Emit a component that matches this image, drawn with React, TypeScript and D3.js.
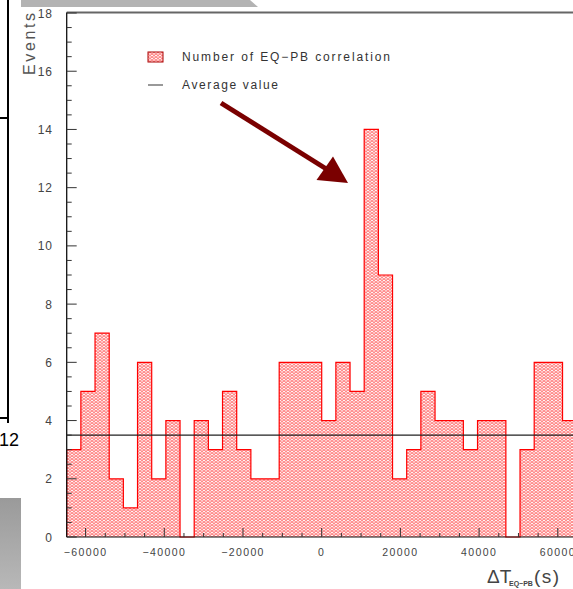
import React from "react";
import * as d3 from "d3";

const binStart = -64800;
const binWidth = 3600;
const counts = [3, 5, 7, 2, 1, 6, 2, 4, 0, 4, 3, 5, 3, 2, 2, 6, 6, 6, 4, 6, 5, 14, 9, 2, 3, 5, 4, 4, 3, 4, 4, 0, 3, 6, 6, 4];
const averageValue = 3.5;
const yTicks = [0, 2, 4, 6, 8, 10, 12, 14, 16, 18];
const xTicks = [-60000, -40000, -20000, 0, 20000, 40000, 60000];
const legendLabels = ["Number of EQ\u2212PB correlation", "Average value"];

const W = 573;
const H = 589;

export default function App() {
  const x = d3.scaleLinear().domain([-64800, 64800]).range([66.7, 576.7]);
  const y = d3.scaleLinear().domain([0, 18]).range([537, 13]);

  const pts: [number, number][] = [];
  counts.forEach((c, i) => {
    const x0 = binStart + i * binWidth;
    pts.push([x0, c]);
    pts.push([x0 + binWidth, c]);
  });
  const area = d3
    .area<[number, number]>()
    .x((d) => x(d[0]))
    .y0(y(0))
    .y1((d) => y(d[1]));
  const outline = d3
    .line<[number, number]>()
    .x((d) => x(d[0]))
    .y((d) => y(d[1]));
  const outPts: [number, number][] = [[pts[0][0], 0], ...pts, [pts[pts.length - 1][0], 0]];

  const yMinor = d3.range(0, 18.01, 0.5);
  const xMinor = d3.range(-60000, 64801, 5000);
  const fmt = (v: number) => (v < 0 ? "\u2212" + Math.abs(v) : String(v));
  const font = "'Liberation Sans', Arial, sans-serif";

  return (
    <div style={{ position: "fixed", left: 0, top: 0, width: W, height: H, overflow: "hidden", background: "#fff" }}>
      <svg width={W} height={H} style={{ display: "block" }}>
        <defs>
          <pattern id="hatch" width="4" height="3" patternUnits="userSpaceOnUse">
            <rect width="4" height="3" fill="#fff2f2" />
            <path d="M0,0 L2,1.5 L0,3 M4,0 L2,1.5 L4,3" stroke="#ff5a5a" strokeWidth="0.7" fill="none" />
            <path d="M0,0 L4,0" stroke="#ff8080" strokeWidth="0.5" />
          </pattern>
          <linearGradient id="gbox" x1="0" y1="0" x2="0" y2="1">
            <stop offset="0" stopColor="#9a9a9a" />
            <stop offset="1" stopColor="#b8b8b8" />
          </linearGradient>
        </defs>

        {/* background decorations */}
        <polygon points="21,0 250,0 258,7 21,7" fill="#b3b3b3" />
        <rect x={0} y={498} width={21} height={91} fill="url(#gbox)" />
        <line x1={8} y1={0} x2={8} y2={423} stroke="#000" strokeWidth={2} />
        <line x1={0} y1={118} x2={8} y2={118} stroke="#000" strokeWidth={2} />
        <line x1={0} y1={418} x2={9} y2={418} stroke="#000" strokeWidth={2} />
        <text x={9} y={446} textAnchor="middle" fontFamily={font} fontSize={18} fill="#000">12</text>

        {/* histogram */}
        <path d={area(pts) || ""} fill="url(#hatch)" />
        <path d={outline(outPts) || ""} fill="none" stroke="#ff0000" strokeWidth={1.2} />

        {/* average line */}
        <line x1={x(-64800)} x2={W} y1={y(averageValue)} y2={y(averageValue)} stroke="#222" strokeWidth={1.3} />

        {/* frame */}
        <line x1={66.7} x2={W} y1={12.5} y2={12.5} stroke="#666" strokeWidth={2} />
        <line x1={66.7} x2={66.7} y1={12.5} y2={537} stroke="#111" strokeWidth={1.3} />
        <line x1={66.7} x2={W} y1={537} y2={537} stroke="#111" strokeWidth={1.2} />

        {/* y ticks */}
        {yMinor.map((v) => {
          const major = Math.abs(v % 2) < 1e-6;
          return (
            <line key={"ym" + v} x1={66.7} x2={66.7 + (major ? 10 : 5)} y1={y(v)} y2={y(v)} stroke="#333" strokeWidth={1} />
          );
        })}
        {yTicks.map((v) => (
          <text key={"yt" + v} x={53} y={y(v) + 4.5} textAnchor="end" fontFamily={font} fontSize={12} letterSpacing={1} fill="#444">
            {v}
          </text>
        ))}

        {/* x ticks */}
        {xMinor.map((v) => {
          const major = Math.abs(v % 20000) < 1e-6;
          return (
            <line key={"xm" + v} x1={x(v)} x2={x(v)} y1={537} y2={537 - (major ? 9 : 4)} stroke="#333" strokeWidth={1} />
          );
        })}
        {xTicks.map((v) => (
          <text key={"xt" + v} x={x(v)} y={556} textAnchor="middle" fontFamily={font} fontSize={10.5} letterSpacing={1.4} fill="#444">
            {fmt(v)}
          </text>
        ))}

        {/* axis titles */}
        <text transform="translate(35,13) rotate(-90)" textAnchor="end" fontFamily={font} fontSize={16} fill="#555" textLength={62} lengthAdjust="spacing">
          Events
        </text>
        <text x={487} y={583} fontFamily={font} fontSize={19} fill="#444">
          {"\u0394T"}
        </text>
        <text x={509} y={586} fontFamily={font} fontSize={7} fontWeight="bold" fill="#444">
          {"EQ\u2212PB"}
        </text>
        <text x={534} y={583} fontFamily={font} fontSize={19} fill="#444" letterSpacing={1.5}>
          (s)
        </text>

        {/* legend */}
        <rect x={148} y={52} width={15} height={10} fill="url(#hatch)" stroke="#a00" strokeWidth={1} />
        <text x={182} y={61} fontFamily={font} fontSize={12} fill="#333" textLength={208} lengthAdjust="spacing">
          {legendLabels[0]}
        </text>
        <line x1={148} x2={163} y1={85} y2={85} stroke="#999" strokeWidth={2} />
        <text x={182} y={89} fontFamily={font} fontSize={12} fill="#333" textLength={96} lengthAdjust="spacing">
          {legendLabels[1]}
        </text>

        {/* arrow */}
        <line x1={221} y1={103} x2={328} y2={170} stroke="#7a0000" strokeWidth={5} />
        <polygon points="348,183 316.5,180 333,156.5" fill="#7a0000" />
      </svg>
    </div>
  );
}
